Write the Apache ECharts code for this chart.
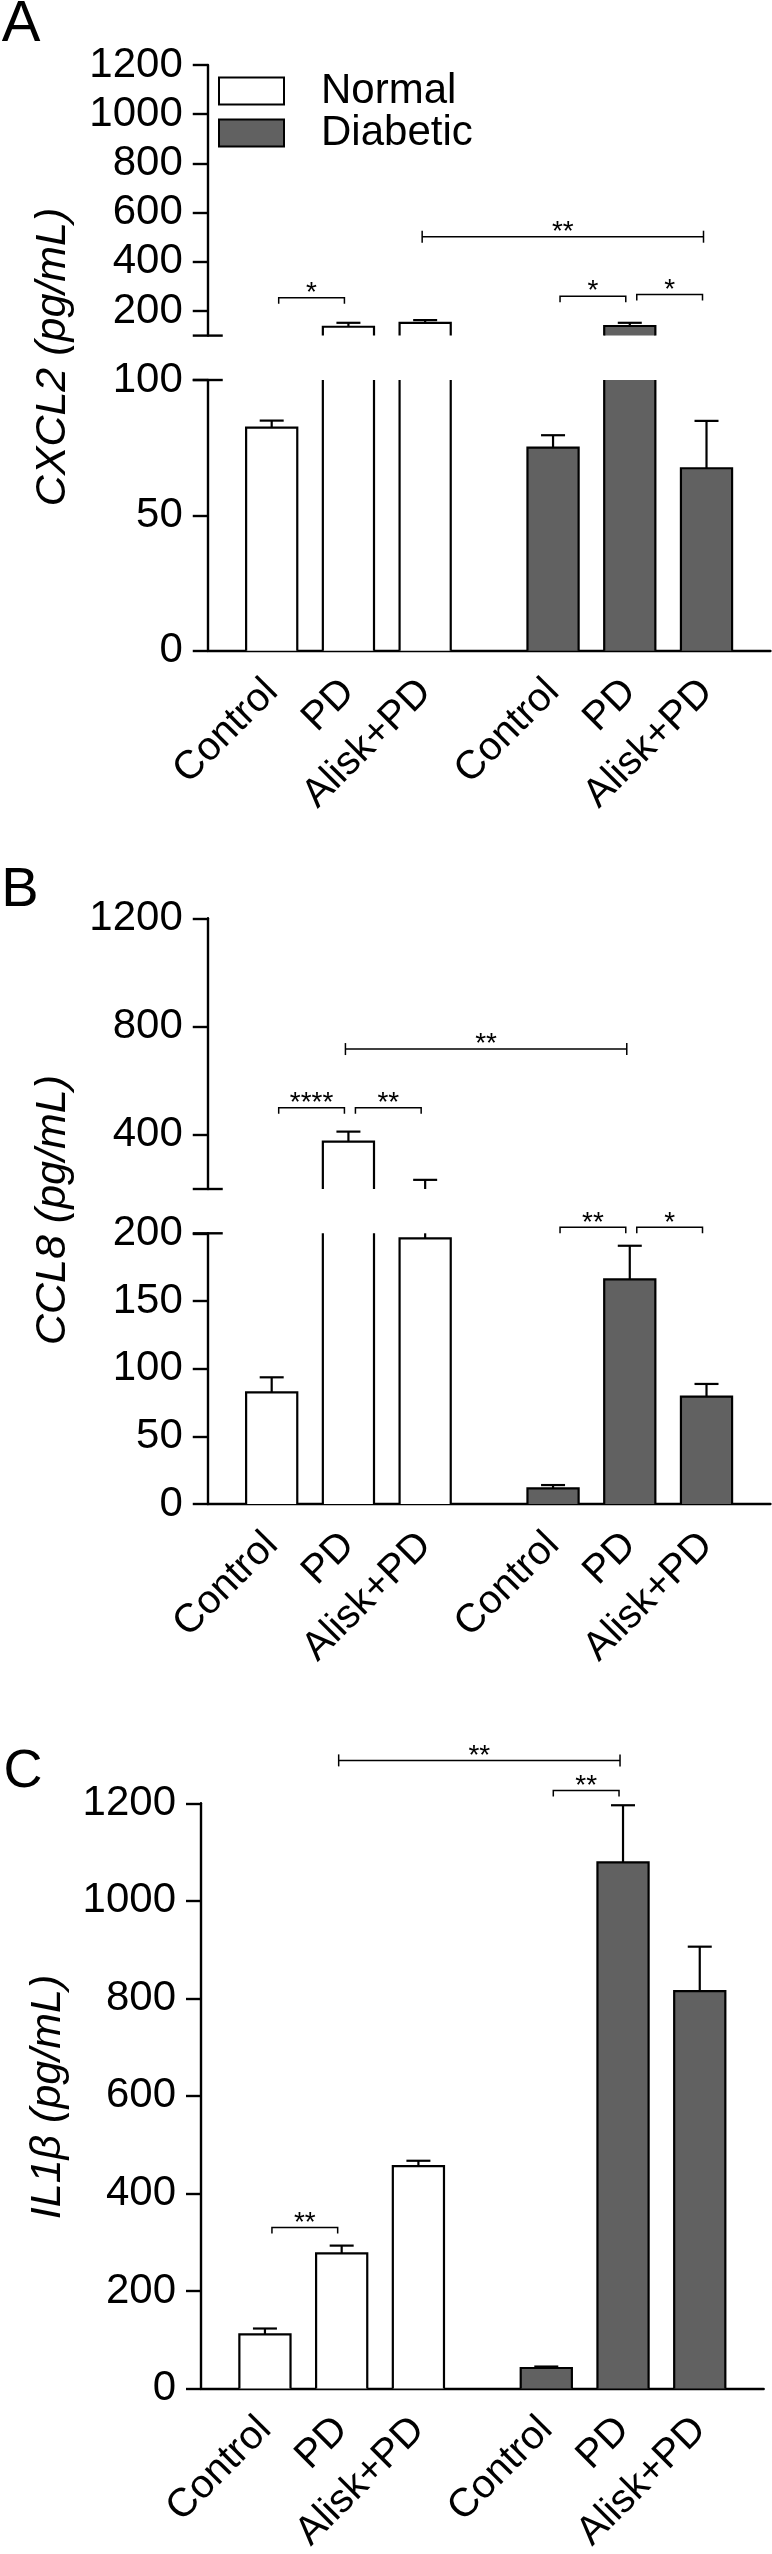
<!DOCTYPE html>
<html><head><meta charset="utf-8">
<script src="https://cdn.jsdelivr.net/npm/echarts@6/dist/echarts.min.js"></script>
<style>html,body{margin:0;padding:0;background:#fff}#c{width:772px;height:2554px}</style>
</head><body><div id="c"></div>
<script>
// ---------------- data ----------------
const groups = ['Normal', 'Diabetic'];
const treatments = ['Control', 'PD', 'Alisk+PD'];

const cxcl2Normal = [82.4, 136, 152];
const cxcl2NormalSem = [2.6, 16, 11];
const cxcl2Diabetic = [75.0, 139, 67.4];
const cxcl2DiabeticSem = [4.6, 13, 17.5];

const ccl8Normal = [82.5, 375, 196.3];
const ccl8NormalSem = [11.1, 37, 37.5];
const ccl8Diabetic = [11.6, 166, 79.3];
const ccl8DiabeticSem = [2.4, 24.8, 9.4];

const il1bNormal = [111, 277, 456];
const il1bNormalSem = [12, 16, 11];
const il1bDiabetic = [42, 1079, 815];
const il1bDiabeticSem = [3, 117, 91];

// tick labels
const cxcl2UpperTicks = [200, 400, 600, 800, 1000, 1200];
const cxcl2LowerTicks = [0, 50, 100];
const ccl8UpperTicks = [400, 800, 1200];
const ccl8LowerTicks = [0, 50, 100, 150, 200];
const il1bTicks = [0, 200, 400, 600, 800, 1000, 1200];

// significance annotations: [groupFrom, treatFrom, groupTo, treatTo, level, text, kind]
const cxcl2Sig = [[0,0,0,1,254,'*','b'],[1,0,1,1,260,'*','b'],[1,1,1,2,267,'*','b'],[0,2,1,2,502,'**','l']];
const ccl8SigUpper = [[0,0,0,1,500,'****','b'],[0,1,0,2,500,'**','b'],[0,1,1,1,717,'**','l']];
const ccl8SigLower = [[1,0,1,1,204.4,'**','b'],[1,1,1,2,204.4,'*','b']];
const il1bSig = [[0,0,0,1,330,'**','b'],[1,0,1,1,1226,'**','b'],[0,1,1,1,1288,'**','l']];

// ---------------- layout / style ----------------
const SLOT = [[2, 5, 8], [13, 16, 19]];
const NSLOTS = 22;
const BAR_SLOTS = 2;
const FONT = '"Liberation Sans", Arial, Helvetica, sans-serif';
const DARK = '#616161';
const AXW = 2.4, LW = 2.2, SLW = 1.5;
const FILLS = ['#ffffff', DARK];

const xCats = Array.from({length: NSLOTS}, () => '');
SLOT.forEach(g => g.forEach((s, t) => { xCats[s] = treatments[t]; }));

const gridsDef = [
  {left: 207.75, top: 65, width: 562.7, height: 270.6},
  {left: 207.75, top: 380, width: 562.7, height: 270.7},
  {left: 207.75, top: 918.3, width: 562.7, height: 270.7},
  {left: 207.75, top: 1233.3, width: 562.7, height: 270.7},
  {left: 201, top: 1803.3, width: 562.7, height: 585.2}
];

function yAx(gi, min, max, ticks) {
  return {
    type: 'value', gridIndex: gi, min: min, max: max,
    axisLine: {show: true, lineStyle: {color: '#000', width: AXW}},
    axisTick: {show: true, length: 15, lineStyle: {color: '#000', width: AXW}, customValues: ticks},
    axisLabel: {customValues: ticks, fontSize: 42, color: '#000', fontFamily: FONT, margin: 25,
                formatter: v => String(v)},
    splitLine: {show: false}
  };
}
function xAx(gi, show) {
  return {
    type: 'category', gridIndex: gi, data: xCats, boundaryGap: true, show: show,
    axisLine: {show: true, onZero: false, lineStyle: {color: '#000', width: AXW}},
    axisTick: {show: false},
    axisLabel: {interval: 0, rotate: 45, fontSize: 40, color: '#000', fontFamily: FONT,
                margin: 35, align: 'right', verticalAlign: 'middle'},
    splitLine: {show: false}
  };
}

function renderBar(fill) {
  return function (params, api) {
    const cs = params.coordSys;
    const top = cs.y, bottom = cs.y + cs.height;
    const idx = api.value(0), v = api.value(1), e = api.value(2);
    const p = api.coord([idx, v]);
    const cx = p[0];
    const w = api.size([1, 0])[0] * BAR_SLOTS;
    const x0 = cx - w / 2, x1 = cx + w / 2;
    const ch = [];
    if (p[1] < bottom) {
      const clipped = p[1] < top;
      const ty = Math.max(p[1], top);
      ch.push({type: 'rect', shape: {x: x0, y: ty, width: w, height: bottom - ty}, style: {fill: fill, stroke: null, lineWidth: 0}});
      if (clipped) {
        ch.push({type: 'line', shape: {x1: x0, y1: bottom, x2: x0, y2: ty}, style: {stroke: '#000', lineWidth: LW}});
        ch.push({type: 'line', shape: {x1: x1, y1: bottom, x2: x1, y2: ty}, style: {stroke: '#000', lineWidth: LW}});
      } else {
        ch.push({type: 'polyline', shape: {points: [[x0, bottom], [x0, ty], [x1, ty], [x1, bottom]]},
                 style: {fill: null, stroke: '#000', lineWidth: LW, lineJoin: 'miter'}});
      }
    }
    const pe = api.coord([idx, v + e])[1];
    const y1 = Math.min(Math.max(p[1], top), bottom);
    const y2 = Math.min(Math.max(pe, top), bottom);
    if (y2 < y1) ch.push({type: 'line', shape: {x1: cx, y1: y1, x2: cx, y2: y2}, style: {stroke: '#000', lineWidth: LW}});
    if (pe >= top && pe <= bottom) ch.push({type: 'line', shape: {x1: cx - 12, y1: pe, x2: cx + 12, y2: pe}, style: {stroke: '#000', lineWidth: LW}});
    return {type: 'group', children: ch};
  };
}

function barSeries(gi, g, vals, sems) {
  return {
    type: 'custom', name: groups[g], xAxisIndex: gi, yAxisIndex: gi,
    renderItem: renderBar(FILLS[g]),
    itemStyle: {color: FILLS[g], borderColor: '#000', borderWidth: 2},
    data: vals.map((v, t) => [SLOT[g][t], v, sems[t]]),
    silent: true
  };
}

function breakSeries(gi, atTop) {
  return {
    type: 'custom', xAxisIndex: gi, yAxisIndex: gi, silent: true,
    renderItem: function (params, api) {
      const cs = params.coordSys;
      const y = atTop ? cs.y : cs.y + cs.height;
      return {type: 'line', shape: {x1: cs.x - 15, y1: y, x2: cs.x + 15, y2: y}, style: {stroke: '#000', lineWidth: AXW}};
    },
    data: [[0, 0]]
  };
}

function sigSeries(gi, list) {
  return {
    type: 'custom', xAxisIndex: gi, yAxisIndex: gi, silent: true, clip: false,
    renderItem: function (params, api) {
      const s = list[params.dataIndex];
      const a = api.coord([api.value(0), api.value(2)]);
      const b = api.coord([api.value(1), api.value(2)]);
      const y = a[1];
      const ch = [];
      let xL, xR;
      if (s[6] === 'b') {
        xL = a[0] + 7; xR = b[0] - 4;
        ch.push({type: 'polyline', shape: {points: [[xL, y + 6], [xL, y], [xR, y], [xR, y + 6]]}, style: {fill: null, stroke: '#000', lineWidth: SLW}});
      } else {
        xL = a[0] - 3; xR = b[0] - 3;
        ch.push({type: 'line', shape: {x1: xL, y1: y, x2: xR, y2: y}, style: {stroke: '#000', lineWidth: SLW}});
        ch.push({type: 'line', shape: {x1: xL, y1: y - 6, x2: xL, y2: y + 6}, style: {stroke: '#000', lineWidth: SLW}});
        ch.push({type: 'line', shape: {x1: xR, y1: y - 6, x2: xR, y2: y + 6}, style: {stroke: '#000', lineWidth: SLW}});
      }
      ch.push({type: 'text', x: (xL + xR) / 2, y: y - 4.5,
               style: {text: s[5], font: '28px ' + FONT, fill: '#000', align: 'center', verticalAlign: 'middle', textAlign: 'center', textVerticalAlign: 'middle'}});
      return {type: 'group', children: ch};
    },
    data: list.map(s => [SLOT[s[0]][s[1]], SLOT[s[2]][s[3]], s[4]])
  };
}

function txt(x, y, text, font, rot) {
  return {type: 'text', x: x, y: y, rotation: rot || 0, silent: true,
          style: {text: text, font: font, fill: '#000', align: 'center', verticalAlign: 'middle', textAlign: 'center', textVerticalAlign: 'middle'}};
}

const option = {
  animation: false,
  backgroundColor: '#fff',
  grid: gridsDef.map(g => Object.assign({outerBoundsMode: 'none', containLabel: false}, g)),
  xAxis: [xAx(0, false), xAx(1, true), xAx(2, false), xAx(3, true), xAx(4, true)],
  yAxis: [
    yAx(0, 100, 1200, cxcl2UpperTicks),
    yAx(1, 0, 100, cxcl2LowerTicks),
    yAx(2, 200, 1200, ccl8UpperTicks),
    yAx(3, 0, 200, ccl8LowerTicks),
    yAx(4, 0, 1200, il1bTicks)
  ],
  legend: {
    left: 218, top: 70, orient: 'vertical', padding: 0, itemGap: 0,
    itemWidth: 65, itemHeight: 27, selectedMode: false,
    textStyle: {fontSize: 42, fontFamily: FONT, color: '#000', padding: [0, 0, 0, 32], lineHeight: 41},
    data: [
      {name: 'Normal', icon: 'rect', itemStyle: {color: '#fff', borderColor: '#000', borderWidth: 2}},
      {name: 'Diabetic', icon: 'rect', itemStyle: {color: DARK, borderColor: '#000', borderWidth: 2}}
    ]
  },
  graphic: [
    txt(21, 25, 'A', '58px ' + FONT),
    txt(20, 891, 'B', '56px ' + FONT),
    txt(23, 1772, 'C', '54px ' + FONT),
    txt(53, 357, 'CXCL2 (pg/mL)', 'italic 43px ' + FONT, Math.PI / 2),
    txt(53, 1210, 'CCL8 (pg/mL)', 'italic 43px ' + FONT, Math.PI / 2),
    txt(48, 2097, 'IL1\u03B2 (pg/mL)', 'italic 43px ' + FONT, Math.PI / 2)
  ],
  series: [
    barSeries(0, 0, cxcl2Normal, cxcl2NormalSem), barSeries(0, 1, cxcl2Diabetic, cxcl2DiabeticSem),
    barSeries(1, 0, cxcl2Normal, cxcl2NormalSem), barSeries(1, 1, cxcl2Diabetic, cxcl2DiabeticSem),
    barSeries(2, 0, ccl8Normal, ccl8NormalSem), barSeries(2, 1, ccl8Diabetic, ccl8DiabeticSem),
    barSeries(3, 0, ccl8Normal, ccl8NormalSem), barSeries(3, 1, ccl8Diabetic, ccl8DiabeticSem),
    barSeries(4, 0, il1bNormal, il1bNormalSem), barSeries(4, 1, il1bDiabetic, il1bDiabeticSem),
    breakSeries(0, false), breakSeries(1, true), breakSeries(2, false), breakSeries(3, true),
    sigSeries(0, cxcl2Sig), sigSeries(2, ccl8SigUpper), sigSeries(3, ccl8SigLower), sigSeries(4, il1bSig)
  ]
};

const chart = echarts.init(document.getElementById('c'), null, {renderer: 'canvas', width: 772, height: 2554});
chart.setOption(option);
</script>
</body></html>
